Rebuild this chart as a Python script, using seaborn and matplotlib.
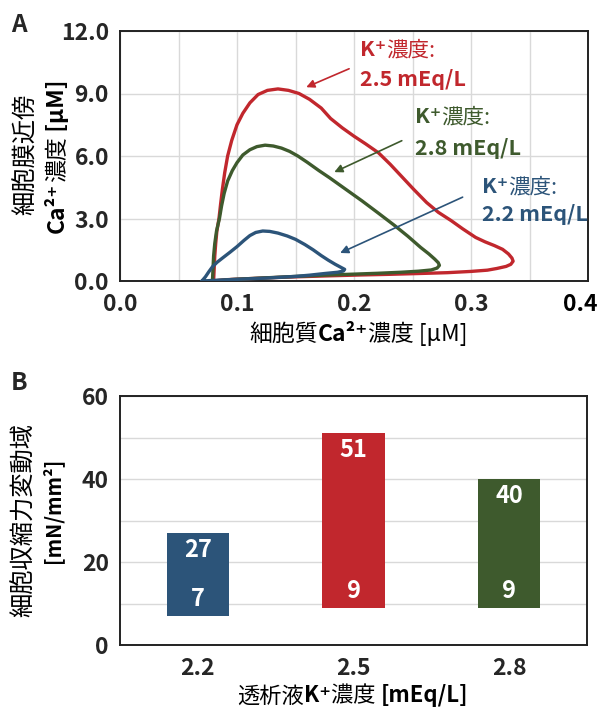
import matplotlib
matplotlib.use("Agg")
import matplotlib.pyplot as plt
from matplotlib.ticker import MultipleLocator
from matplotlib.transforms import IdentityTransform
import seaborn as sns

sns.set_theme(style="white")
plt.rcParams["font.family"] = ["Noto Sans CJK JP", "DejaVu Sans"]

# Panel A: cytosolic Ca2+ vs subsarcolemmal Ca2+ loops, per dialysate K+
k25_cyto = [0.080, 0.0805, 0.081, 0.0818, 0.0828, 0.0846, 0.086, 0.0875, 0.0895, 0.092,
            0.0955, 0.100, 0.105, 0.111, 0.118, 0.126, 0.135, 0.144, 0.153, 0.162,
            0.172, 0.180, 0.190, 0.200, 0.210, 0.221, 0.231, 0.241, 0.251, 0.262,
            0.272, 0.283, 0.293, 0.304, 0.312, 0.320, 0.327, 0.332, 0.335, 0.336,
            0.334, 0.330, 0.322, 0.314, 0.300, 0.280, 0.262, 0.230, 0.206, 0.180,
            0.150, 0.125, 0.105, 0.090, 0.080]
k25_sub = [0.0, 0.6, 1.2, 1.8, 2.4, 3.0, 3.7, 4.4, 5.2, 6.0,
           6.75, 7.5, 8.05, 8.55, 8.95, 9.15, 9.22, 9.15, 9.0, 8.72,
           8.3, 7.8, 7.35, 6.95, 6.58, 6.15, 5.6, 5.0, 4.4, 3.77,
           3.3, 2.9, 2.5, 2.09, 1.88, 1.7, 1.52, 1.3, 1.1, 0.95,
           0.8, 0.7, 0.6, 0.52, 0.46, 0.4, 0.37, 0.32, 0.29, 0.25,
           0.2, 0.15, 0.1, 0.06, 0.0]

k28_cyto = [0.079, 0.0795, 0.080, 0.081, 0.0825, 0.085, 0.0868, 0.089, 0.092, 0.096,
            0.100, 0.105, 0.111, 0.117, 0.124, 0.131, 0.138, 0.145, 0.152, 0.160,
            0.170, 0.179, 0.193, 0.207, 0.221, 0.235, 0.246, 0.257, 0.264, 0.269,
            0.272, 0.273, 0.271, 0.266, 0.255, 0.240, 0.220, 0.200, 0.179, 0.150,
            0.120, 0.095, 0.079]
k28_sub = [0.0, 0.6, 1.2, 1.8, 2.4, 3.0, 3.6, 4.2, 4.8, 5.3,
           5.68, 6.05, 6.3, 6.45, 6.52, 6.48, 6.38, 6.22, 6.0, 5.7,
           5.3, 4.96, 4.4, 3.84, 3.25, 2.65, 2.15, 1.61, 1.3, 1.05,
           0.88, 0.75, 0.62, 0.53, 0.47, 0.42, 0.37, 0.33, 0.29, 0.22,
           0.14, 0.07, 0.0]

k22_cyto = [0.070, 0.073, 0.076, 0.079, 0.083, 0.088, 0.094, 0.100, 0.106, 0.111,
            0.116, 0.122, 0.128, 0.135, 0.143, 0.150, 0.158, 0.165, 0.172, 0.178,
            0.184, 0.189, 0.192, 0.191, 0.186, 0.175, 0.162, 0.150, 0.125, 0.100,
            0.080, 0.070]
k22_sub = [0.0, 0.2, 0.45, 0.68, 0.9, 1.12, 1.38, 1.65, 1.95, 2.18,
           2.33, 2.4, 2.38, 2.3, 2.16, 2.0, 1.75, 1.5, 1.22, 1.0,
           0.8, 0.65, 0.56, 0.48, 0.42, 0.36, 0.28, 0.22, 0.14, 0.08,
           0.03, 0.0]

# Panel B: range of cell contraction force
k_levels = ["2.2", "2.5", "2.8"]
force_low = [7, 9, 9]
force_high = [27, 51, 40]

palette = {"2.2": "#2C5479", "2.5": "#C1272D", "2.8": "#3E5A2D"}

W, H = 598, 709
fig = plt.figure(figsize=(W / 100, H / 100), dpi=100)
ax1 = fig.add_axes([120 / W, 1 - 281 / H, 468 / W, 250 / H])
ax2 = fig.add_axes([120 / W, 1 - 645 / H, 467 / W, 249 / H])


def rich_text(cx, cy, parts, size, color="black", vertical=False, align="center", mid=0.38):
    """Lay out (text, weight) pieces in one row around pixel (cx, cy) from the top-left."""
    r = fig.canvas.get_renderer()
    em = size * fig.dpi / 72
    widths = []
    for s, w in parts:
        t = fig.text(0, 0, s, fontsize=size, fontweight=w)
        widths.append(t.get_window_extent(r).width)
        t.remove()
    pos = -sum(widths) / 2 if align == "center" else 0
    for (s, w), wd in zip(parts, widths):
        if vertical:
            x, y, rot = cx + mid * em, H - cy + pos, 90
        else:
            x, y, rot = cx + pos, H - cy - mid * em, 0
        fig.text(x, y, s, fontsize=size, fontweight=w, color=color, rotation=rot,
                 rotation_mode="anchor", ha="left", va="baseline",
                 transform=IdentityTransform())
        pos += wd


# ---- panel A ----
for cyto, sub, lvl in [(k25_cyto, k25_sub, "2.5"), (k28_cyto, k28_sub, "2.8"),
                       (k22_cyto, k22_sub, "2.2")]:
    sns.lineplot(x=cyto, y=sub, sort=False, estimator=None, color=palette[lvl],
                 lw=2.4, solid_joinstyle="round", ax=ax1, zorder=3)

ax1.set_xlim(0, 0.4)
ax1.set_ylim(0, 12)
ax1.xaxis.set_major_locator(MultipleLocator(0.1))
ax1.xaxis.set_minor_locator(MultipleLocator(0.05))
ax1.yaxis.set_major_locator(MultipleLocator(3))
# the 0.4 label is drawn by hand below so it stays inside the figure
ax1.xaxis.set_major_formatter(lambda v, p: "" if v > 0.39 else f"{v:.1f}")
ax1.yaxis.set_major_formatter(lambda v, p: f"{v:.1f}")
ax1.grid(True, which="both", axis="x", color="#d9d9d9", lw=1)
ax1.grid(True, which="major", axis="y", color="#d9d9d9", lw=1)

notes = [("2.5", 360, 48, 78, (0.198, 10.24), (0.157, 9.25)),
         ("2.8", 415, 115, 147, (0.243, 6.79), (0.181, 5.17)),
         ("2.2", 482, 185, 213, (0.295, 4.08), (0.186, 1.29))]
for lvl, tx, ty1, ty2, start, tip in notes:
    c = palette[lvl]
    rich_text(tx, ty1, [("K⁺", "bold"), ("濃度:", "normal")], 15.5, color=c, align="left")
    rich_text(tx, ty2, [(f"{lvl} mEq/L", "bold")], 15.5, color=c, align="left")
    ax1.annotate("", xy=tip, xytext=start,
                 arrowprops=dict(arrowstyle="-|>", color=c, lw=1.2, mutation_scale=12))

# ---- panel B ----
span = [h - l for h, l in zip(force_high, force_low)]
sns.barplot(x=k_levels, y=span, bottom=force_low, order=k_levels, width=0.4,
            color="#888888", saturation=1, ax=ax2, zorder=3)
for patch, lvl in zip(ax2.patches, k_levels):
    patch.set_facecolor(palette[lvl])
    patch.set_edgecolor("none")
for i, (lo, hi) in enumerate(zip(force_low, force_high)):
    ax2.text(i, hi - 4, str(hi), color="white", fontsize=17, fontweight="bold",
             ha="center", va="center", zorder=4)
    ax2.text(i, lo + 4, str(lo), color="white", fontsize=17, fontweight="bold",
             ha="center", va="center", zorder=4)

ax2.set_xlim(-0.5, 2.5)
ax2.set_ylim(0, 60)
ax2.yaxis.set_major_locator(MultipleLocator(20))
ax2.yaxis.set_minor_locator(MultipleLocator(10))
ax2.grid(True, which="both", axis="y", color="#d9d9d9", lw=1)
ax2.grid(False, axis="x")
ax2.set_xlabel("")
ax2.set_ylabel("")

for ax in (ax1, ax2):
    ax.set_axisbelow(True)
    for s in ax.spines.values():
        s.set_visible(True)
        s.set_color("#222222")
        s.set_linewidth(1.4)
    ax.tick_params(which="both", length=0, labelsize=16.5)
    ax.tick_params(axis="x", pad=8.5)
    ax.tick_params(axis="y", pad=8)
    for lab in ax.get_xticklabels() + ax.get_yticklabels():
        lab.set_fontweight("bold")

rich_text(580, 303, [("0.4", "bold")], 16.5, mid=0.33)

# axis titles with mixed weights
rich_text(358, 332, [("細胞質", "normal"), ("Ca²⁺", "bold"), ("濃度 [μM]", "normal")], 16.5)
rich_text(24, 154, [("細胞膜近傍", "normal")], 17.5, vertical=True)
rich_text(55, 156, [("Ca²⁺", "bold"), ("濃度", "normal"), (" [μM]", "bold")], 16.5, vertical=True)
rich_text(353, 694, [("透析液", "normal"), ("K⁺", "bold"), ("濃度 ", "normal"),
                     ("[mEq/L]", "bold")], 16)
rich_text(22, 520, [("細胞収縮力変動域", "normal")], 17.5, vertical=True)
rich_text(52, 510, [("[mN/mm²]", "bold")], 14.5, vertical=True)

fig.text(19, H - 25, "A", fontsize=17.5, fontweight="bold", ha="center", va="center",
         transform=IdentityTransform())
fig.text(19, H - 383, "B", fontsize=17.5, fontweight="bold", ha="center", va="center",
         transform=IdentityTransform())

fig.savefig("out.png", dpi=100)
